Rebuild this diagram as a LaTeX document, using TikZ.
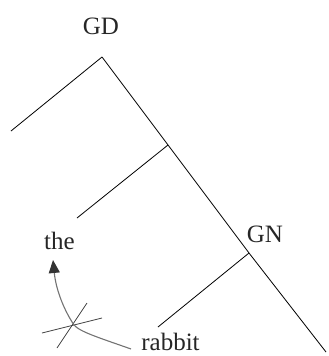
\documentclass[tikz,border=0pt]{standalone}
\usepackage{fontspec}
\setmainfont{Liberation Serif}
\usetikzlibrary{arrows.meta}
\begin{document}
\begin{tikzpicture}[x=1pt,y=-1pt,
  branch/.style={draw=black,line width=0.8pt},
  lbl/.style={font=\fontsize{25}{25}\selectfont,text=black!85,inner sep=0pt,anchor=base},
  crossline/.style={draw=black!75,line width=0.8pt},
  move/.style={draw=black!55,line width=1.1pt,-{Triangle[length=13pt,width=11pt,color=black!80]}}]
\useasboundingbox (0,0) rectangle (329,356);
% coordinates
\coordinate (a1) at (102,57);
\coordinate (l1) at (11,131);
\coordinate (a2) at (168,145);
\coordinate (l2) at (77,218);
\coordinate (a3) at (249,253);
\coordinate (l3) at (158,327);
\coordinate (end) at (326,352);
\coordinate (c1a) at (42,333);
\coordinate (c1b) at (102,318);
\coordinate (c2a) at (57,348);
\coordinate (c2b) at (87,303);
\coordinate (cross) at (74,325);
\coordinate (tip) at (53,260);
% labels
\node[lbl] (gd) at (101,34) {GD};
\node[lbl] (the) at (59.5,249) {the};
\node[lbl] (gn) at (265,242) {GN};
\node[lbl] (rabbit) at (170.5,350) {rabbit};
% tree
\draw[branch] (a1) -- (a2) -- (a3) -- (end);
\draw[branch] (a1) -- (l1);
\draw[branch] (a2) -- (l2);
\draw[branch] (a3) -- (l3);
% crossed trace
\draw[crossline] (c1a) -- (c1b);
\draw[crossline] (c2a) -- (c2b);
% movement arrow
\draw[move] (131,349) .. controls (100,338) and (80,332) .. (cross)
  .. controls (64,310) and (56,290) .. (tip);
\end{tikzpicture}
\end{document}
